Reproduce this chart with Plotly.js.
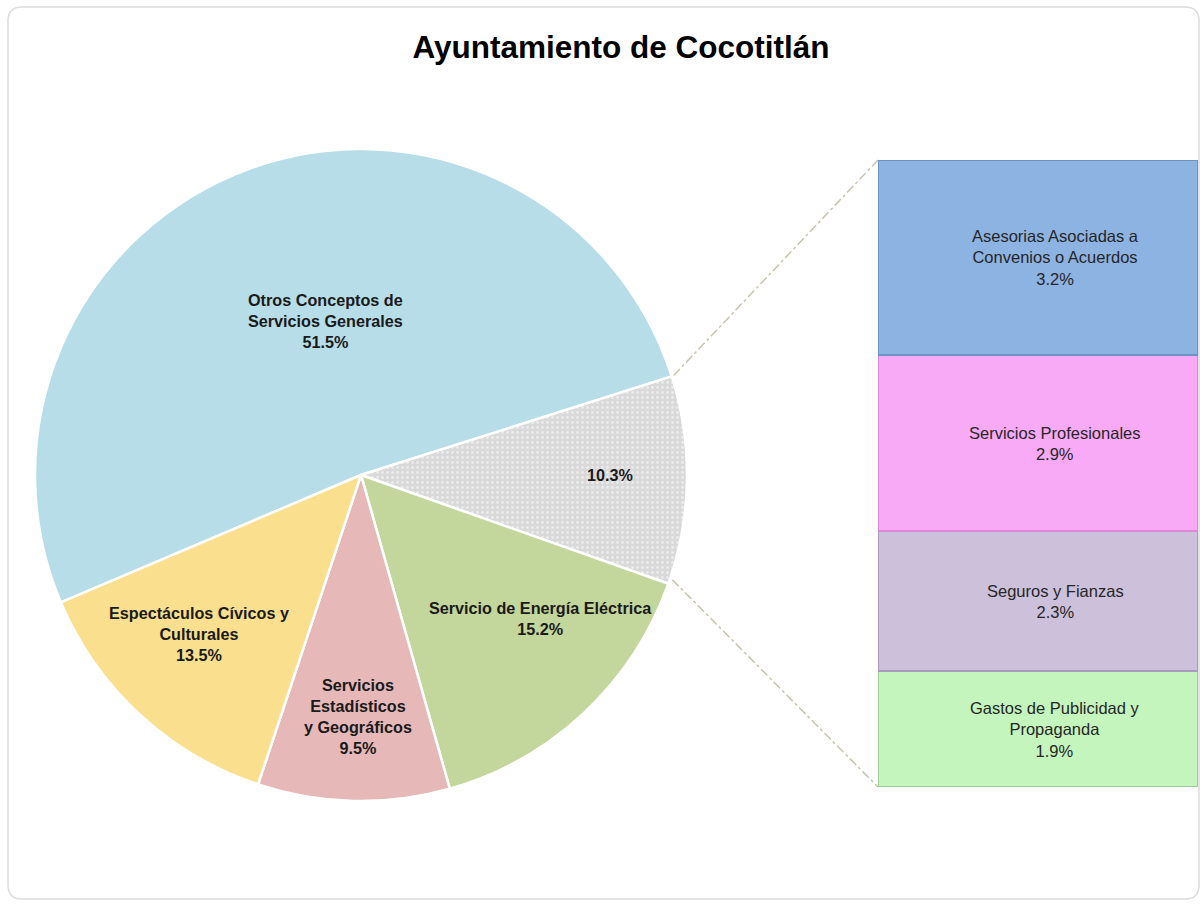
<!DOCTYPE html>
<html>
<head>
<meta charset="utf-8">
<script src="https://cdn.plot.ly/plotly-3.0.1.min.js"></script>
<style>html,body{margin:0;padding:0;background:#fff;}#chart{width:1204px;height:904px;}</style>
</head>
<body>
<div id="chart"></div>
<script>
// ---- data ----
const pieLabels = ["Otros Conceptos de<br>Servicios Generales", "", "Servicio de Energía Eléctrica", "Servicios<br>Estadísticos<br>y Geográficos", "Espectáculos Cívicos y<br>Culturales"];
const pieValues = [51.5, 10.3, 15.2, 9.5, 13.5];
const pieColors = ["#b7dde8", "#d9d9d9", "#c3d69b", "#e6b9b8", "#f9df8e"];

const barLabels = ["Gastos de Publicidad y<br>Propaganda", "Seguros y Fianzas", "Servicios Profesionales", "Asesorias Asociadas a<br>Convenios o Acuerdos"];
const barValues = [1.9, 2.3, 2.9, 3.2];
const barColors = ["#c4f5bd", "#ccc0da", "#f8aaf6", "#8db3e2"];
const barLines = ["#9fcf98", "#a99bbb", "#d98ad6", "#6b93c4"];

const titleText = "Ayuntamiento de Cocotitlán";

// ---- layout helpers (pixel -> paper) ----
const W = 1204, H = 904;
const px = v => v / W;
const py = v => 1 - v / H;

const pieDom = {x: [px(34), px(688)], y: [py(801), py(149)]};
const pieCx = 361, pieCy = 475, pieR = 326;
const pieRotation = 247; // clockwise from 12 o'clock

const barDom = {x: [px(878), px(1198)], y: [py(787), py(160)]};
const barTotal = barValues.reduce((a, b) => a + b, 0);

const traces = [];
traces.push({
  type: "pie",
  values: pieValues,
  labels: pieValues.map((v, i) => "s" + i),
  sort: false,
  direction: "clockwise",
  rotation: pieRotation,
  domain: pieDom,
  textinfo: "none",
  hoverinfo: "skip",
  showlegend: false,
  marker: {
    colors: pieColors,
    line: {color: "#ffffff", width: 2.5},
    pattern: {shape: ["", ".", "", "", ""], fgcolor: "#ececec", bgcolor: pieColors, size: 5, solidity: 0.25}
  }
});

barValues.forEach((v, i) => {
  traces.push({
    type: "bar",
    x: [0],
    y: [v],
    marker: {color: barColors[i], line: {color: barLines[i], width: 2}},
    hoverinfo: "skip",
    showlegend: false,
    xaxis: "x", yaxis: "y"
  });
});

const annotations = [];
// pie labels
const pieLabelPos = [[325, 321], [610, 475], [540, 618], [358, 716], [199, 634]];
pieValues.forEach((v, i) => {
  const t = (pieLabels[i] ? pieLabels[i] + "<br>" : "") + v.toFixed(1) + "%";
  annotations.push({
    xref: "paper", yref: "paper",
    x: px(pieLabelPos[i][0]), y: py(pieLabelPos[i][1]),
    xanchor: "center", yanchor: "middle",
    text: "<b>" + t + "</b>", showarrow: false,
    font: {family: "Liberation Sans, Arial, sans-serif", size: 16.2, color: "#1a1a1a"}
  });
});
// bar labels
let cum = 0;
barValues.forEach((v, i) => {
  annotations.push({
    xref: "x", yref: "y", x: 0, y: cum + v / 2, xshift: 17,
    xanchor: "center", yanchor: "middle",
    text: barLabels[i] + "<br>" + v.toFixed(1) + "%", showarrow: false,
    font: {family: "Liberation Sans, Arial, sans-serif", size: 16.5, color: "#262626"}
  });
  cum += v;
});

// connector lines from the gray slice edges to the bar corners
const totalPie = pieValues.reduce((a, b) => a + b, 0);
const startMath = 90 - pieRotation; // degrees
const a1 = startMath - 360 * pieValues[0] / totalPie;
const a2 = a1 - 360 * pieValues[1] / totalPie;
const pt = a => [pieCx + pieR * Math.cos(a * Math.PI / 180), pieCy - pieR * Math.sin(a * Math.PI / 180)];
const p1 = pt(a1), p2 = pt(a2);
const shapes = [
  {type: "line", xref: "paper", yref: "paper", x0: px(p1[0] + 2), y0: py(p1[1] - 1), x1: barDom.x[0], y1: barDom.y[1],
   line: {color: "#c9c3ad", width: 1.5, dash: "dashdot"}, layer: "below"},
  {type: "line", xref: "paper", yref: "paper", x0: px(p2[0] + 4), y0: py(p2[1] - 4), x1: barDom.x[0], y1: barDom.y[0],
   line: {color: "#c9c3ad", width: 1.5, dash: "dashdot"}, layer: "below"}
];
// outer rounded frame
(function () {
  const x0 = 8, y0 = 7, x1 = 1199, y1 = 899, r = 14;
  const rx = r / W, ry = r / H;
  const X0 = px(x0), X1 = px(x1), Y0 = py(y0), Y1 = py(y1);
  const path = `M ${X0 + rx} ${Y0} L ${X1 - rx} ${Y0} Q ${X1} ${Y0} ${X1} ${Y0 - ry} L ${X1} ${Y1 + ry} Q ${X1} ${Y1} ${X1 - rx} ${Y1} L ${X0 + rx} ${Y1} Q ${X0} ${Y1} ${X0} ${Y1 + ry} L ${X0} ${Y0 - ry} Q ${X0} ${Y0} ${X0 + rx} ${Y0} Z`;
  shapes.push({type: "path", xref: "paper", yref: "paper", path: path, line: {color: "#dcdcdc", width: 1.5}, layer: "below"});
})();

const layout = {
  width: W, height: H,
  margin: {l: 0, r: 0, t: 0, b: 0},
  paper_bgcolor: "#ffffff", plot_bgcolor: "rgba(0,0,0,0)",
  title: {
    text: titleText, x: px(621), y: py(47), xanchor: "center", yanchor: "middle",
    xref: "paper", yref: "paper",
    font: {family: "Liberation Sans, Arial, sans-serif", size: 31.5, color: "#000000", weight: "bold"}
  },
  barmode: "stack",
  bargap: 0,
  xaxis: {domain: barDom.x, range: [-0.5, 0.5], visible: false, fixedrange: true},
  yaxis: {domain: barDom.y, range: [0, barTotal], visible: false, fixedrange: true},
  annotations: annotations,
  shapes: shapes,
  showlegend: false
};

Plotly.newPlot("chart", traces, layout, {displayModeBar: false, staticPlot: true});
</script>
</body>
</html>
